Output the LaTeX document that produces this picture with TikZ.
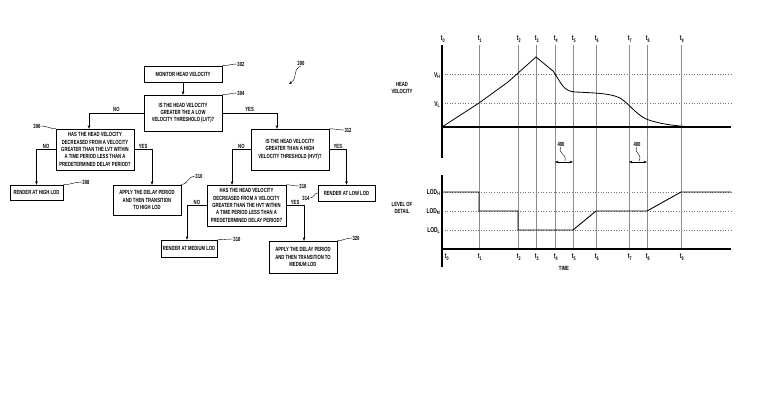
\documentclass[tikz,border=0pt]{standalone}
\usepackage{fontspec}
\newfontfamily\patfont[FakeStretch=0.70]{Liberation Sans}
\usetikzlibrary{arrows.meta, shadows}

\begin{document}
\begin{tikzpicture}[x=1pt, y=-1pt, >={Stealth[length=3.5pt, width=2.6pt]},
  font=\patfont\bfseries\fontsize{6}{7.4}\selectfont,
  box/.style={draw, fill=white, line width=0.5pt, align=center, inner sep=1pt,
    drop shadow={shadow xshift=0.7pt, shadow yshift=-0.7pt, fill=black!55, opacity=1}},
  ref/.style={inner sep=0.5pt},
  yesno/.style={above, inner sep=1pt},
  tline/.style={black!45, line width=0.4pt},
  gridline/.style={black!55, dotted, line width=0.6pt},
  axis/.style={line width=1.1pt},
  tlab/.style={inner sep=0.5pt, font=\patfont\bfseries\fontsize{7.5}{8}\selectfont},
  ylab/.style={anchor=east, inner sep=0.5pt, font=\patfont\bfseries\fontsize{7}{8}\selectfont}
]
\useasboundingbox (0,0) rectangle (782,413);

% Flow chart boxes
\node[box, minimum width=78pt, minimum height=16pt] (q302) at (183,74) {MONITOR HEAD VELOCITY};
\node[box, minimum width=78pt, minimum height=36pt] (q304) at (183,113) {IS THE HEAD VELOCITY\\GREATER THE A LOW\\VELOCITY THRESHOLD (LVT)?};
\node[box, minimum width=78pt, minimum height=41pt] (q306) at (95,149.5) {HAS THE HEAD VELOCITY\\DECREASED FROM A VELOCITY\\GREATER THAN THE LVT WITHIN\\A TIME PERIOD LESS THAN A\\PREDETERMINED DELAY PERIOD?};
\node[box, minimum width=53pt, minimum height=15pt] (q308) at (36.5,192.5) {RENDER AT HIGH LOD};
\node[box, minimum width=68pt, minimum height=30pt] (q310) at (147,200) {APPLY THE DELAY PERIOD\\AND THEN TRANSITION\\TO HIGH LOD};
\node[box, minimum width=78pt, minimum height=41pt] (q312) at (290,149.5) {IS THE HEAD VELOCITY\\GREATER THAN A HIGH\\VELOCITY THRESHOLD (HVT)?};
\node[box, minimum width=57pt, minimum height=16pt] (q314) at (346.5,193) {RENDER AT LOW LOD};
\node[box, minimum width=79pt, minimum height=41pt] (q316) at (246.5,205.5) {HAS THE HEAD VELOCITY\\DECREASED FROM A VELOCITY\\GREATER THAN THE HVT WITHIN\\A TIME PERIOD LESS THAN A\\PREDETERMINED DELAY PERIOD?};
\node[box, minimum width=56pt, minimum height=17pt] (q318) at (189,248.5) {RENDER AT MEDIUM LOD};
\node[box, minimum width=68pt, minimum height=32pt] (q320) at (303,257) {APPLY THE DELAY PERIOD\\AND THEN TRANSITION TO\\MEDIUM LOD};

% Flow chart arrows
\draw[->] (q302) -- (q304);
\draw[->] (q304.west) -| ([xshift=-6pt]q306.north) node[yesno, pos=0.25] {NO};
\draw[->] (q304.east) -| ([xshift=-13pt]q312.north) node[yesno, pos=0.25] {YES};
\draw[->] (q306.west) -| (q308.north) node[yesno, pos=0.25] {NO};
\draw[->] (q306.east) -| ([xshift=5pt]q310.north) node[yesno, pos=0.25] {YES};
\draw[->] (q312.west) -| ([xshift=-14.5pt]q316.north) node[yesno, pos=0.25] {NO};
\draw[->] (q312.east) -| (q314.north) node[yesno, pos=0.25] {YES};
\draw[->] (q316.west) -| ([xshift=-2pt]q318.north) node[yesno, pos=0.25] {NO};
\draw[->] (q316.east) -| ([xshift=1pt]q320.north) node[yesno, pos=0.25] {YES};

% Reference numerals
\node[ref] (r300) at (301,63) {300};
\node[ref] (r302) at (241,64) {302};
\node[ref] (r304) at (241,93) {304};
\node[ref] (r306) at (37,126) {306};
\node[ref] (r308) at (86,182) {308};
\node[ref] (r310) at (199,176) {310};
\node[ref] (r312) at (348,130) {312};
\node[ref] (r314) at (306,198) {314};
\node[ref] (r316) at (303,186) {316};
\node[ref] (r318) at (237,239) {318};
\node[ref] (r320) at (356,238) {320};
\coordinate (p300) at (289,84);
\draw[->] (r300.south) .. controls (291,71) and (299,77) .. (p300);
\draw (q302.north east) to[out=0, in=180] (r302.west);
\draw (q304.north east) to[out=0, in=180] (r304.west);
\draw (q306.north west) to[out=180, in=0] (r306.east);
\draw (q308.north east) to[out=0, in=180] (r308.west);
\draw (q310.north east) to[out=0, in=180] (r310.west);
\draw (q312.north east) to[out=0, in=180] (r312.west);
\draw (q314.west) to[out=180, in=0] (r314.east);
\draw (q316.north east) to[out=0, in=180] (r316.west);
\draw (q318.north east) to[out=0, in=180] (r318.west);
\draw (q320.north east) to[out=0, in=180] (r320.west);

% Timing chart grid
\foreach \yy in {74, 103, 192, 211, 230}
  \draw[gridline] (442,\yy) -- (731,\yy);
\foreach \i/\tx in {1/479, 2/518, 3/536, 4/555, 5/573, 6/596, 7/629, 8/647, 9/681} {
  \draw[tline] (\tx,45) -- (\tx,249);
  \node[tlab] (top\i) at (\tx+1,39) {t\textsubscript{\i}};
  \node[tlab] (bot\i) at (\tx+1,257) {t\textsubscript{\i}};
}
\node[tlab] (top0) at (443,39) {t\textsubscript{0}};
\node[tlab] (bot0) at (447,257) {t\textsubscript{0}};

% Axes
\draw[axis] (442,45) -- (442,158);
\draw[axis] (442,175) -- (442,267);
\draw[axis] (442,127) -- (731,127);
\draw[axis] (442,249) -- (731,249);

% Axis labels
\node[align=center] (headvel) at (402,88) {HEAD\\VELOCITY};
\node[align=center] (lod) at (402,208) {LEVEL OF\\DETAIL};
\node[ylab] (vh) at (441,76) {V\textsubscript{H}};
\node[ylab] (vl) at (441,105) {V\textsubscript{L}};
\node[ylab] (lodh) at (441,193) {LOD\textsubscript{H}};
\node[ylab] (lodm) at (441,212) {LOD\textsubscript{M}};
\node[ylab] (lodl) at (441,231) {LOD\textsubscript{L}};
\node (time) at (564,268) {TIME};

% Head velocity curve
\draw[line width=0.8pt] (442,127) -- (479,103) -- (508,82) -- (536,57) -- (553,71)
  .. controls (562,84) and (563,91) .. (575,92)
  .. controls (600,93) and (612,94) .. (620,98)
  .. controls (630,104) and (638,118) .. (652,121)
  .. controls (665,125) and (680,126) .. (690,127);

% Level of detail curve
\draw[line width=0.9pt] (442,192) -- (479,192) -- (479,211) -- (518,211) -- (518,230)
  -- (573,230) -- (596,211) -- (647,211) -- (681,192) -- (731,192);

% Delay periods
\draw[<->, line width=0.4pt] (555,162) -- (573,162);
\draw[<->, line width=0.4pt] (629,162) -- (647,162);
\node[ref] (r400a) at (561,144) {400};
\node[ref] (r400b) at (637,144) {400};
\coordinate (p400a) at (565,161);
\coordinate (p400b) at (639,161);
\draw (r400a.south) .. controls (557,154) and (567,153) .. (p400a);
\draw (r400b.south) .. controls (633,154) and (643,153) .. (p400b);

\end{tikzpicture}
\end{document}
